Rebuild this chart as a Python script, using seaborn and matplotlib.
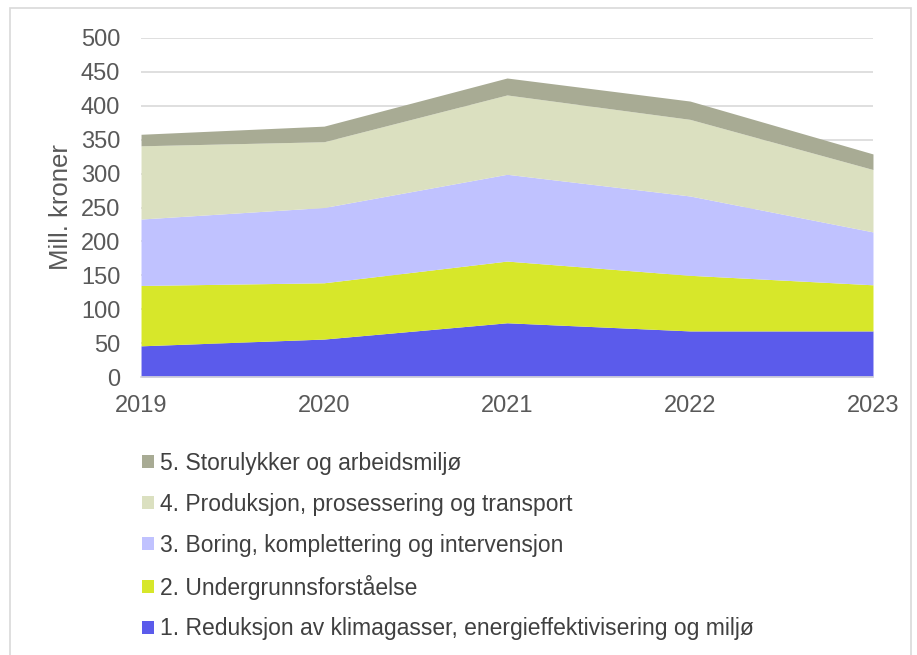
import numpy as np
import pandas as pd
import matplotlib
matplotlib.use("Agg")
import matplotlib.pyplot as plt
import seaborn as sns
from matplotlib.patches import Patch, Rectangle

years = [2019, 2020, 2021, 2022, 2023]
klima = [46, 56, 80, 68, 68]
undergrunn = [89, 83, 91, 82, 68]
boring = [98, 111, 128, 117, 78]
produksjon = [108, 97, 117, 113, 92]
storulykker = [17, 23, 25, 27, 23]

labels = [
    "1. Reduksjon av klimagasser, energieffektivisering og miljø",
    "2. Undergrunnsforståelse",
    "3. Boring, komplettering og intervensjon",
    "4. Produksjon, prosessering og transport",
    "5. Storulykker og arbeidsmiljø",
]
colors = ["#5B5BEB", "#D7E72A", "#C0C2FF", "#DBE0C0", "#A8AB94"]

sns.set_style("white")
plt.rcParams["font.family"] = ["Liberation Sans", "DejaVu Sans"]

df = pd.DataFrame({"year": years, labels[0]: klima, labels[1]: undergrunn,
                   labels[2]: boring, labels[3]: produksjon, labels[4]: storulykker})

fig = plt.figure(figsize=(9.17, 6.55), dpi=100)
ax = fig.add_axes([0.1538, 0.4244, 0.7982, 0.5176])

ax.stackplot(df["year"], [df[l] for l in labels], colors=colors, linewidth=0, zorder=2)

# axes styling
ax.set_xlim(2019, 2023)
ax.set_ylim(0, 500)
ax.set_yticks(range(0, 501, 50))
ax.set_xticks(years)
ax.yaxis.grid(True, color="#D9D9D9", linewidth=1.2, zorder=0)
ax.set_axisbelow(True)
sns.despine(ax=ax, left=True, top=True, right=True)
ax.spines["bottom"].set_color("#D9D9D9")
ax.spines["bottom"].set_linewidth(1.2)
ax.spines["bottom"].set_zorder(3)
ax.tick_params(axis="x", colors="#D9D9D9", length=6, width=1.2, labelcolor="#595959",
               labelsize=17, pad=7)
ax.tick_params(axis="y", length=0, labelcolor="#595959", labelsize=17, pad=15)
ax.set_ylabel("Mill. kroner", fontsize=18.5, color="#595959")
ax.yaxis.set_label_coords(-0.093, 0.5)

handles = [Patch(facecolor=c, edgecolor="none") for c in colors]
fig.legend(handles[::-1], labels[::-1], loc="upper left",
           bbox_to_anchor=(0.145, 0.324), frameon=False, fontsize=16.5,
           labelcolor="#404040", handlelength=0.5, handleheight=0.5,
           handletextpad=0.3, labelspacing=0.78, borderaxespad=0)

# outer chart border
fig.patches.append(Rectangle((0.011, -0.1), 0.982, 1.088, transform=fig.transFigure,
                             fill=False, edgecolor="#D9D9D9", linewidth=1.2))

fig.savefig("out.png", dpi=100)
